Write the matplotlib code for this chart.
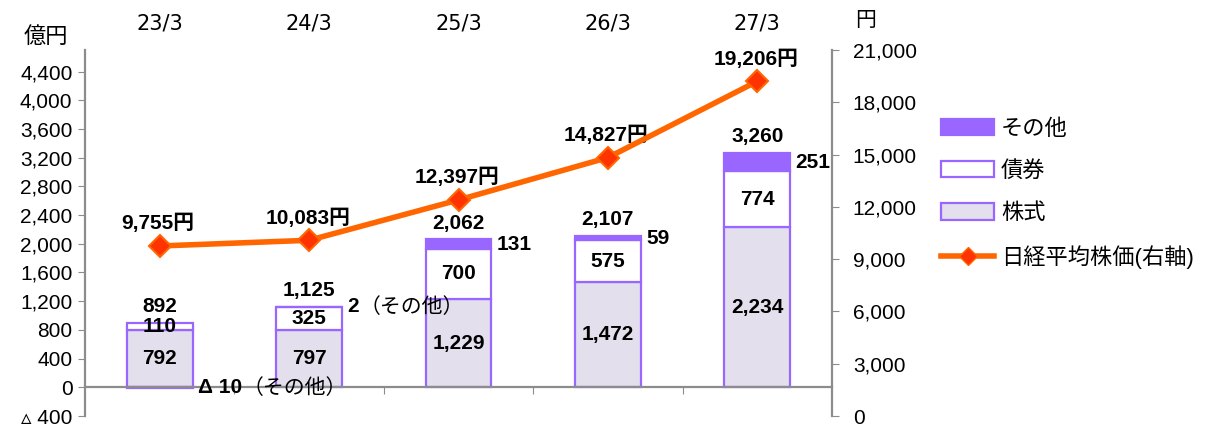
import matplotlib
matplotlib.use("Agg")
import matplotlib.pyplot as plt
from matplotlib.patches import Patch
from matplotlib.lines import Line2D
from matplotlib.ticker import FixedLocator, FuncFormatter

plt.rcParams['font.family'] = ['Liberation Sans', 'Noto Sans CJK JP', 'DejaVu Sans']

categories = ['23/3', '24/3', '25/3', '26/3', '27/3']
stocks = [792, 797, 1229, 1472, 2234]
bonds = [110, 325, 700, 575, 774]
others = [-10, 2, 131, 59, 251]
totals = [892, 1125, 2062, 2107, 3260]
nikkei = [9755, 10083, 12397, 14827, 19206]
other_labels = ['Δ 10', '2', '131', '59', '251']
other_suffix = ['（その他）', '（その他）', '', '', '']

purple = '#9966FF'
lav = '#E4DFEC'
orange = '#FF6600'
gray = '#8C8C8C'

fig = plt.figure(figsize=(12.08, 4.26), dpi=100)
ax = fig.add_axes([85/1208, 10/426, (832-85)/1208, (416-50)/426])
ax2 = ax.twinx()

x = list(range(len(categories)))
w = 0.44
ax.bar(x, stocks, w, color=lav, edgecolor=purple, linewidth=1.6, zorder=2)
ax.bar(x, bonds, w, bottom=stocks, color='white', edgecolor=purple, linewidth=1.6, zorder=2)
oth_bottom = [s + b if o >= 0 else 0 for s, b, o in zip(stocks, bonds, others)]
ax.bar(x, others, w, bottom=oth_bottom, color=purple, edgecolor=purple, linewidth=1.6, zorder=2)

ax.set_xlim(-0.5, len(categories) - 0.5)
ax.set_ylim(-400, 4700)
ax.yaxis.set_major_locator(FixedLocator(list(range(-400, 4401, 400))))
ax.yaxis.set_major_formatter(FuncFormatter(lambda v, p: ('▵ %s' % format(int(-v), ',')) if v < 0 else format(int(v), ',')))
ax.tick_params(axis='y', direction='out', length=5, color=gray, labelsize=15, pad=4)

for s in ['top', 'right']:
    ax.spines[s].set_visible(False)
ax.spines['left'].set_color(gray)
ax.spines['left'].set_linewidth(1.6)
ax.spines['bottom'].set_position(('data', 0))
ax.spines['bottom'].set_color(gray)
ax.spines['bottom'].set_linewidth(1.6)
ax.set_xticks([i + 0.5 for i in x[:-1]])
ax.tick_params(axis='x', direction='out', length=5, color=gray, labelbottom=False)

sec = ax.secondary_xaxis('top')
sec.set_xticks(x)
sec.set_xticklabels(categories, fontsize=15, family=['DejaVu Sans'])
sec.tick_params(length=0, pad=12)
sec.spines['top'].set_visible(False)

# bar labels
bold = dict(fontsize=15, fontweight='bold', zorder=5)
for i in x:
    ax.annotate(format(stocks[i], ','), (i, stocks[i] / 2), ha='center', va='center', **bold)
    ax.annotate(format(bonds[i], ','), (i, stocks[i] + bonds[i] / 2), ha='center', va='center', **bold)
    ax.annotate(format(totals[i], ','), (i, max(stocks[i] + bonds[i] + others[i], stocks[i] + bonds[i])),
                xytext=(0, 5), textcoords='offset points', ha='center', va='bottom', **bold)
    ymid = oth_bottom[i] + others[i] / 2
    t = ax.annotate(other_labels[i], (i + w / 2, ymid), xytext=(4, 0), textcoords='offset points',
                    ha='left', va='center', **bold)
    if other_suffix[i]:
        ax.annotate(other_suffix[i], xy=(1, 0.5), xycoords=t, ha='left', va='center',
                    fontsize=15, color='black', zorder=5)

ax.text(-0.053, 1.005, '億円', transform=ax.transAxes, fontsize=16, ha='center', va='bottom')

# line on right axis
ax2.plot(x, nikkei, color=orange, linewidth=4, marker='D', markersize=11,
         markerfacecolor='#FF3300', markeredgecolor=orange, markeredgewidth=1.5, zorder=4)
ax2.set_ylim(0, 21000)
ax2.yaxis.set_major_locator(FixedLocator(list(range(0, 21001, 3000))))
ax2.yaxis.set_major_formatter(FuncFormatter(lambda v, p: format(int(v), ',')))
ax2.tick_params(axis='y', direction='out', length=5, color=gray, labelsize=15, pad=10)
for s in ['top', 'left', 'bottom']:
    ax2.spines[s].set_visible(False)
ax2.spines['right'].set_color(gray)
ax2.spines['right'].set_linewidth(1.6)
for i in x:
    ax2.annotate(format(nikkei[i], ',') + '円', (i, nikkei[i]), xytext=(-1, 9), textcoords='offset points',
                 ha='center', va='bottom', fontsize=15, fontweight='bold')
ax2.text(1.045, 1.055, '円', transform=ax2.transAxes, fontsize=15, ha='center', va='bottom')

handles = [
    Patch(facecolor=purple, edgecolor=purple, linewidth=1.6),
    Patch(facecolor='white', edgecolor=purple, linewidth=1.6),
    Patch(facecolor=lav, edgecolor=purple, linewidth=1.6),
    Line2D([0], [0], color=orange, linewidth=4, marker='D', markersize=9,
           markerfacecolor='#FF3300', markeredgecolor=orange),
]
labels = ['その他', '債券', '株式', '日経平均株価(右軸)']
fig.legend(handles, labels, loc='upper left', bbox_to_anchor=(932/1208, 1 - 110/426),
           frameon=False, fontsize=16, handlelength=2.4, handleheight=0.75,
           labelspacing=0.95, handletextpad=0.3, borderaxespad=0)

fig.savefig('out.png', dpi=100)
